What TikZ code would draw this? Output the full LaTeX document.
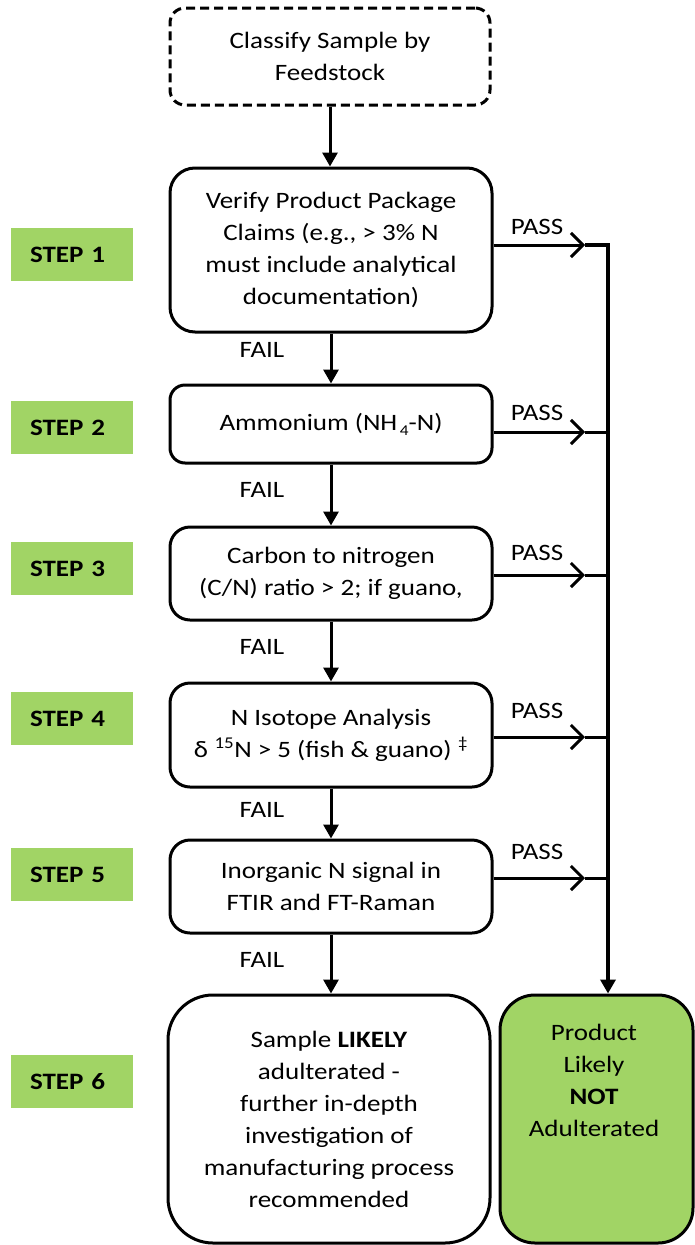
\documentclass[tikz,border=0pt]{standalone}
\usepackage{fontspec}
\setmainfont{Carlito}[FakeStretch=1.15]
\usetikzlibrary{arrows.meta,positioning}
\definecolor{stepgreen}{HTML}{A1D465}
\newcommand{\flowfont}{\fontsize{23.5}{32}\selectfont}
\tikzset{box/.style={draw,line width=3pt,rounded corners=20pt,align=center,inner sep=0pt,minimum width=322pt},
  steplabel/.style={fill=stepgreen,font=\flowfont\bfseries,text width=84pt,inner xsep=19pt,inner ysep=0pt,minimum height=53pt,align=left},
  fail/.style={line width=3pt,-{Triangle[length=14pt,width=15pt]}},
  pass/.style={line width=3pt,-{Straight Barb[length=12pt,width=24pt]}},
  lbl/.style={inner sep=0pt}}

\begin{document}
\begin{tikzpicture}[x=1pt,y=-1pt,font=\flowfont]
\useasboundingbox (0,0) rectangle (694,1245);
% flow boxes
\node[box,dash pattern=on 9pt off 5pt,rounded corners=15pt,minimum width=320pt,minimum height=97pt]
  (classify) at (330,56.5) {Classify Sample by\\Feedstock};
\node[box,minimum height=164pt,rounded corners=25pt] (claims) at (331,250)
  {Verify Product Package\\Claims (e.g., > 3\% N\\must include analytical\\documentation)};
\node[box,minimum height=78pt,rounded corners=15pt] (ammonium) at (331,424)
  {Ammonium (NH\raisebox{-0.45ex}{\fontsize{15}{15}\selectfont\,4}-N)};
\node[box,minimum height=93pt] (cn) at (331,573.5) {Carbon to nitrogen\\(C/N) ratio > 2; if guano,};
\node[box,minimum height=104pt] (isotope) at (331,735)
  {N Isotope Analysis\\δ\;\textsuperscript{15}N > 5 (fish \& guano)\;\textsuperscript{‡}};
\node[box,minimum height=93pt] (ftir) at (331,886.5) {Inorganic N signal in\\FTIR and FT-Raman};
\node[box,minimum height=248pt,rounded corners=45pt] (likely) at (329,1119)
  {Sample \textbf{LIKELY}\\adulterated -\\further in-depth\\investigation of\\manufacturing process\\recommended};
\node[box,fill=stepgreen,minimum width=193pt,minimum height=248pt,rounded corners=35pt] (notadult) at (596.5,1119) {};
\node[lbl,align=center,anchor=north] (nottext) at (594,1024) {Product\\Likely\\\textbf{NOT}\\Adulterated};

% step labels
\foreach \i/\y in {1/254.5,2/427.5,3/568.5,4/718.5,5/874.5,6/1081.5}
  \node[steplabel] (step\i) at (72,\y) {STEP \i};

% fail arrows
\draw[fail] (classify.south) -- (classify.south |- claims.north);
\draw[fail] (claims.south) -- (ammonium.north);
\draw[fail] (ammonium.south) -- (cn.north);
\draw[fail] (cn.south) -- (isotope.north);
\draw[fail] (isotope.south) -- (ftir.north);
\draw[fail] (ftir.south) -- (ftir.south |- likely.north);
\foreach \y in {350,490,647,810,960}
  \node[lbl] at (262,\y) {FAIL};

% pass arrows
\coordinate (tip-claims) at (585,245);
\coordinate (trunk) at (608,245);
\draw[pass] (claims.east |- tip-claims) -- (tip-claims);
\draw[line width=3.5pt,-{Triangle[length=14pt,width=15pt]}] (tip-claims) -- (trunk) -- (trunk |- notadult.north);
\node[lbl] at (537,227) {PASS};
\foreach \n/\y/\ly in {ammonium/432/413,cn/575/553,isotope/737/711,ftir/878/852}{
  \coordinate (tip-\n) at (585,\y);
  \draw[pass] (\n.east |- tip-\n) -- (tip-\n);
  \draw[line width=3pt] (tip-\n) -- (trunk |- tip-\n);
  \node[lbl] at (537,\ly) {PASS};
}
\end{tikzpicture}
\end{document}
